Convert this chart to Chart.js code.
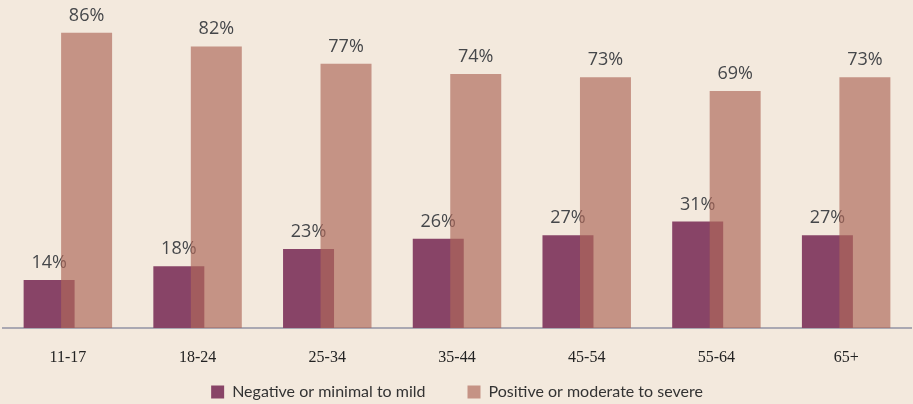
<!DOCTYPE html>
<html>
<head>
<meta charset="utf-8">
<title>Reaction by age group</title>
<script src="https://cdn.jsdelivr.net/npm/chart.js@4"></script>
<style>
  html, body { margin: 0; padding: 0; background: #f3e9dd; }
  #chart { display: block; }
</style>
</head>
<body>
<canvas id="chart" width="913" height="404"></canvas>
<script>
// Age groups along the x axis
const ageGroups = ['11-17', '18-24', '25-34', '35-44', '45-54', '55-64', '65+'];

// Share of respondents (%) per age group
const negativeMild = [14, 18, 23, 26, 27, 31, 27];
const positiveSevere = [86, 82, 77, 74, 73, 69, 73];

const seriesNames = ['Negative or minimal to mild', 'Positive or moderate to severe'];

const MAROON = '#884467';
const TAN = 'rgba(174, 104, 90, 0.67)';

// Percent labels above each bar of one dataset
function drawValueLabels(chart, datasetIndex) {
  const ctx = chart.ctx;
  const meta = chart.getDatasetMeta(datasetIndex);
  const values = chart.data.datasets[datasetIndex].data;
  ctx.save();
  ctx.font = '18px "Open Sans", sans-serif';
  ctx.fillStyle = '#45474a';
  ctx.textAlign = 'center';
  ctx.textBaseline = 'alphabetic';
  meta.data.forEach((bar, i) => {
    ctx.fillText(values[i] + '%', bar.x, bar.y - 12);
  });
  ctx.restore();
}

// The maroon bars and their labels go underneath; the translucent
// tan bars are painted over them where the pairs overlap.
const layeredBars = {
  id: 'layeredBars',
  beforeDatasetsDraw(chart) {
    chart.getDatasetMeta(0).controller.draw();
    drawValueLabels(chart, 0);
  },
  beforeDatasetDraw(chart, args) {
    if (args.index === 0) return false;
  },
  afterDatasetsDraw(chart) {
    drawValueLabels(chart, 1);
  }
};

new Chart(document.getElementById('chart'), {
  type: 'bar',
  data: {
    labels: ageGroups,
    datasets: [
      {
        label: seriesNames[0],
        data: negativeMild,
        backgroundColor: MAROON,
        borderWidth: 0
      },
      {
        label: seriesNames[1],
        data: positiveSevere,
        backgroundColor: TAN,
        borderWidth: 0
      }
    ]
  },
  options: {
    responsive: false,
    animation: false,
    devicePixelRatio: 1,
    categoryPercentage: 0.578,
    barPercentage: 1.36,
    layout: { padding: { left: 3, right: 2, top: 19, bottom: -6 } },
    scales: {
      x: {
        grid: { display: false },
        border: { display: true, color: '#aaa8b2', width: 2 },
        ticks: {
          color: '#222222',
          font: { family: '"Liberation Serif", serif', size: 16 },
          // mirrored labels are not clipped to the (deliberately thin) axis box;
          // the negative padding pushes them back down below the axis line
          mirror: true,
          padding: -39,
          maxRotation: 0,
          autoSkip: false
        },
        // keep the axis band thin so the legend row can sit close below it
        afterFit(scale) { scale.height = 14; }
      },
      y: {
        display: false,
        min: 0,
        max: 90
      }
    },
    plugins: {
      tooltip: { enabled: false },
      legend: {
        position: 'bottom',
        labels: {
          boxWidth: 13,
          boxHeight: 13,
          padding: 42,
          color: '#333333',
          font: { family: 'Lato, sans-serif', size: 16 }
        }
      }
    }
  },
  plugins: [layeredBars]
});
</script>
</body>
</html>
